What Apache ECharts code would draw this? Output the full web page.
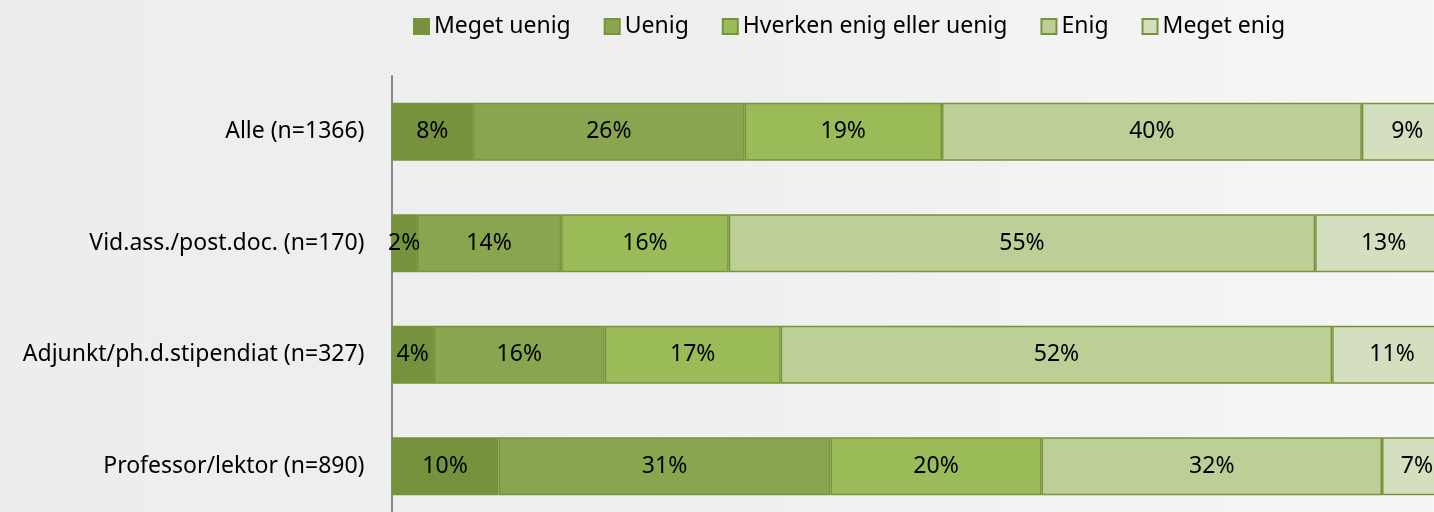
<!DOCTYPE html>
<html>
<head>
<meta charset="utf-8">
<script src="https://cdn.jsdelivr.net/npm/echarts@6/dist/echarts.min.js"></script>
<style>
html,body{margin:0;padding:0;background:#efefef;overflow:hidden;width:1434px;height:512px;}
#chart{width:1452px;height:522px;}
</style>
</head>
<body>
<div id="chart"></div>
<script>
const categories = ['Alle (n=1366)', 'Vid.ass./post.doc. (n=170)', 'Adjunkt/ph.d.stipendiat (n=327)', 'Professor/lektor (n=890)'];
const seriesNames = ['Meget uenig', 'Uenig', 'Hverken enig eller uenig', 'Enig', 'Meget enig'];
const megetUenig = [7.7, 2.4, 4.0, 10.1];
const uenig = [25.6, 13.6, 16.1, 31.3];
const hverken = [18.6, 15.8, 16.6, 19.9];
const enig = [39.6, 55.3, 52.0, 32.1];
const megetEnig = [8.6, 12.9, 11.3, 6.6];
const colors = ['#76923C', '#8AA54F', '#9BBB59', '#BBCF97', '#D3DFBE'];

const values = [megetUenig, uenig, hverken, enig, megetEnig];
const FONT = 'Noto Sans';

const chart = echarts.init(document.getElementById('chart'), null, {renderer: 'canvas'});
chart.setOption({
  backgroundColor: {
    type: 'linear', x: 0, y: 0, x2: 1, y2: 0,
    colorStops: [{offset: 0, color: '#ededed'}, {offset: 0.5, color: '#efefef'}, {offset: 1, color: '#f6f6f6'}]
  },
  animation: false,
  textStyle: {fontFamily: FONT},
  legend: {
    left: 408, top: 10,
    itemWidth: 15, itemHeight: 15, itemGap: 33,
    icon: 'rect',
    textStyle: {fontFamily: FONT, fontSize: 23, color: '#000'},
    data: seriesNames
  },
  grid: {left: 391.5, right: 0, top: 76, bottom: 0, containLabel: false},
  xAxis: {
    type: 'value', min: 0, max: 100,
    show: false
  },
  yAxis: {
    type: 'category', data: categories, inverse: true,
    axisLine: {show: true, lineStyle: {color: '#8a8a8a', width: 2}},
    axisTick: {show: false},
    axisLabel: {fontFamily: FONT, fontSize: 23, color: '#000', margin: 27}
  },
  series: seriesNames.map((name, i) => ({
    name: name,
    type: 'bar',
    stack: 'total',
    barCategoryGap: '48%',
    data: values[i],
    itemStyle: {color: colors[i], borderColor: '#77933C', borderWidth: 1.5},
    label: {
      show: true, position: 'inside', color: '#000',
      fontFamily: FONT, fontSize: 23,
      formatter: p => Math.round(p.value) + '%'
    }
  }))
});
</script>
</body>
</html>
